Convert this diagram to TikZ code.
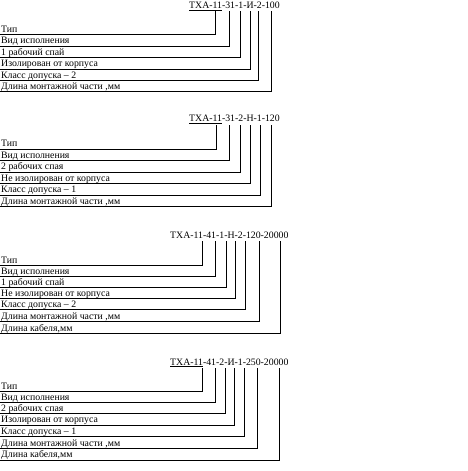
\documentclass[tikz,border=0pt]{standalone}
\usepackage{fontspec}
\setmainfont{Liberation Serif}
\begin{document}
\begin{tikzpicture}[x=1pt,y=-1pt,
  lbl/.style={anchor=base west,inner sep=0pt,font=\fontsize{9.8}{10}\selectfont},
  ttl/.style={anchor=base west,inner sep=0pt,font=\fontsize{9.8}{10}\selectfont},
  ln/.style={line width=0.8pt}]
\useasboundingbox (0,0) rectangle (468,471);
% block 1
\node[ttl] (T1) at (189,8.3) {\underline{ТХА-11}-31-1-И-2-100};
\foreach \txt/\yy/\xx [count=\i] in {Тип/34.3/215.7, Вид исполнения/46/229.3, 1 рабочий спай/57.3/240.3, Изолирован от корпуса/69/250, Класс допуска – 2/80.3/258.7, {Длина монтажной части ,мм}/91.7/271.7}{
  \node[lbl] (A\i) at (1,\yy-2.3) {\txt};
  \coordinate (As\i) at (0,\yy);
  \coordinate (At\i) at (\xx,10.7);
  \draw[ln] (As\i) -| (At\i);
}
% block 2
\node[ttl] (T2) at (189,121.7) {\underline{ТХА-11}-31-2-Н-1-120};
\foreach \txt/\yy/\xx [count=\i] in {Тип/149/216, Вид исполнения/160.7/229.3, 2 рабочих спая/172/240.3, Не изолирован от корпуса/183.3/250.3, Класс допуска – 1/195/260, {Длина монтажной части ,мм}/206.3/271.3}{
  \node[lbl] (B\i) at (1,\yy-2.3) {\txt};
  \coordinate (Bs\i) at (0,\yy);
  \coordinate (Bt\i) at (\xx,125);
  \draw[ln] (Bs\i) -| (Bt\i);
}
% block 3
\node[ttl] (T3) at (170,238.3) {ТХА-11-41-1-Н-2-120-20000};
\foreach \txt/\yy/\xx [count=\i] in {Тип/265.7/202.7, Вид исполнения/276.7/215.3, 1 рабочий спай/287.3/226, Не изолирован от корпуса/298.3/235.3, Класс допуска – 2/309.7/245.3, {Длина монтажной части ,мм}/321.3/259.3, {Длина кабеля,мм}/333.3/280}{
  \node[lbl] (C\i) at (1,\yy-2.3) {\txt};
  \coordinate (Cs\i) at (0,\yy);
  \coordinate (Ct\i) at (\xx,241);
  \draw[ln] (Cs\i) -| (Ct\i);
}
% block 4
\node[ttl] (T4) at (170,365) {\underline{ТХА-11}-41-2-И-1-250-20000};
\foreach \txt/\yy/\xx [count=\i] in {Тип/391.7/202, Вид исполнения/402.3/215, 2 рабочих спая/413.3/225.3, Изолирован от корпуса/425/234.3, Класс допуска – 1/436.7/244.3, {Длина монтажной части ,мм}/448.3/257.3, {Длина кабеля,мм}/460/279.3}{
  \node[lbl] (D\i) at (1,\yy-2.3) {\txt};
  \coordinate (Ds\i) at (0,\yy);
  \coordinate (Dt\i) at (\xx,368);
  \draw[ln] (Ds\i) -| (Dt\i);
}
\end{tikzpicture}
\end{document}
